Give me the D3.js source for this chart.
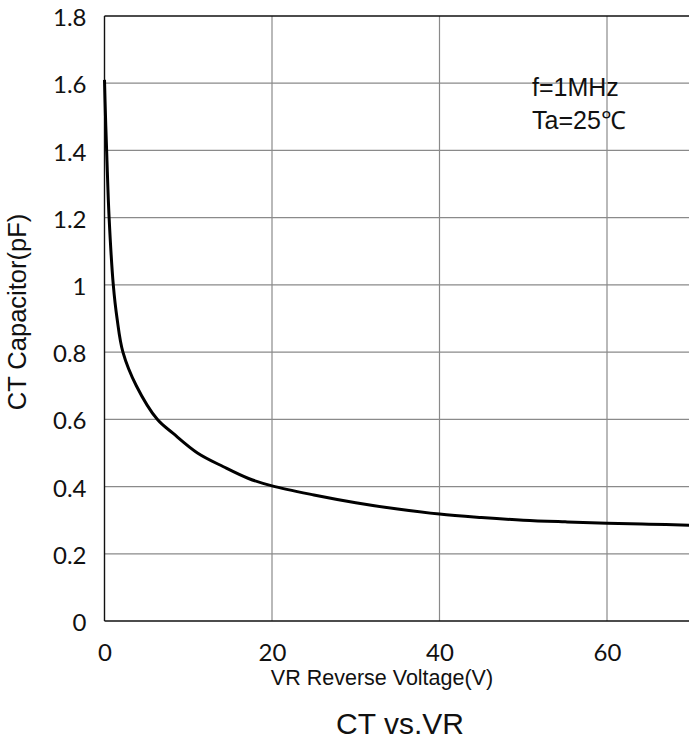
<!DOCTYPE html>
<html>
<head>
<meta charset="utf-8">
<script src="https://cdn.jsdelivr.net/npm/d3@7"></script>
<style>
  body { margin: 0; background: #fff; }
  svg { display: block; }
</style>
</head>
<body>
<div id="chart"></div>
<script>
// CT vs VR readings
const voltage = [0, 0.12, 0.28, 0.55, 1.05, 1.5, 2.2, 3.8, 6.3, 8.2, 11.1, 14.2, 17.2, 20, 25, 30, 35, 40, 45, 50, 55, 60, 65, 70];
const capacitance = [1.61, 1.5, 1.38, 1.2, 1.0, 0.9, 0.8, 0.7, 0.6, 0.558, 0.5, 0.459, 0.424, 0.402, 0.375, 0.352, 0.333, 0.318, 0.308, 0.300, 0.295, 0.291, 0.288, 0.285];
const xTicks = [0, 20, 40, 60];
const yTicks = [0, 0.2, 0.4, 0.6, 0.8, 1, 1.2, 1.4, 1.6, 1.8];
const notes = ["f=1MHz", "Ta=25\u2103"];

const W = 689, H = 742;
const padd = {left: 104.5, top: 16, right: 0, bottom: 121};

const svg = d3.select("#chart").append("svg")
  .attr("width", W)
  .attr("height", H);

const xScale = d3.scaleLinear().domain([0, 70]).range([padd.left, padd.left + 70 * 8.375]);
const yScale = d3.scaleLinear().domain([0, 1.8]).range([H - padd.bottom, padd.top]);

//grid
svg.append("g")
  .selectAll("line.h")
  .data(yTicks.filter(d => d > 0 && d < 1.8))
  .enter().append("line")
  .attr("x1", xScale(0)).attr("x2", W)
  .attr("y1", d => yScale(d)).attr("y2", d => yScale(d))
  .attr("stroke", "#8a8a8a").attr("stroke-width", 1.2);

svg.append("g")
  .selectAll("line.v")
  .data(xTicks.filter(d => d > 0))
  .enter().append("line")
  .attr("x1", d => xScale(d)).attr("x2", d => xScale(d))
  .attr("y1", yScale(1.8)).attr("y2", yScale(0))
  .attr("stroke", "#8a8a8a").attr("stroke-width", 1.2);

//frame lines
const frame = svg.append("g").attr("stroke", "#111").attr("stroke-width", 1.4);
frame.append("line").attr("x1", xScale(0)).attr("x2", W).attr("y1", yScale(1.8)).attr("y2", yScale(1.8));
frame.append("line").attr("x1", xScale(0)).attr("x2", W).attr("y1", yScale(0)).attr("y2", yScale(0));
frame.append("line").attr("x1", xScale(0)).attr("x2", xScale(0)).attr("y1", yScale(1.8)).attr("y2", yScale(0));

//Y axis labels
const yAxis = d3.axisLeft(yScale).tickValues(yTicks).tickSize(0).tickPadding(18).tickFormat(d3.format("~g"));
svg.append("g")
  .attr("transform", `translate(${xScale(0)},0)`)
  .call(yAxis)
  .call(g => g.select(".domain").remove())
  .selectAll("text")
  .attr("font-family", "Lato, 'Open Sans', sans-serif")
  .attr("font-size", 24)
  .attr("fill", "#111")
  .attr("dy", "0.4em");

//X axis labels
const xAxis = d3.axisBottom(xScale).tickValues(xTicks).tickSize(0).tickPadding(23);
svg.append("g")
  .attr("transform", `translate(0,${yScale(0)})`)
  .call(xAxis)
  .call(g => g.select(".domain").remove())
  .selectAll("text")
  .attr("font-family", "Lato, 'Open Sans', sans-serif")
  .attr("font-size", 24)
  .attr("fill", "#111");

//curve
const line = d3.line()
  .x((d, i) => xScale(voltage[i]))
  .y(d => yScale(d))
  .curve(d3.curveCatmullRom.alpha(0.5));

svg.append("path")
  .datum(capacitance)
  .attr("d", line)
  .attr("fill", "none")
  .attr("stroke", "#000")
  .attr("stroke-width", 3);

//notes
svg.append("g")
  .selectAll("text")
  .data(notes)
  .enter().append("text")
  .attr("x", 532)
  .attr("y", (d, i) => 96 + i * 33)
  .attr("font-family", "'Liberation Sans', Arial, sans-serif")
  .attr("font-size", 25)
  .attr("fill", "#111")
  .text(d => d);

//axis titles
svg.append("text")
  .attr("x", 382).attr("y", 685)
  .attr("text-anchor", "middle")
  .attr("font-family", "'Liberation Sans', Arial, sans-serif")
  .attr("font-size", 21.5)
  .attr("fill", "#111")
  .text("VR Reverse Voltage(V)");

svg.append("text")
  .attr("transform", "translate(26,312) rotate(-90)")
  .attr("text-anchor", "middle")
  .attr("font-family", "'Liberation Sans', Arial, sans-serif")
  .attr("font-size", 25.5)
  .attr("fill", "#111")
  .text("CT Capacitor(pF)");

svg.append("text")
  .attr("x", 400).attr("y", 734)
  .attr("text-anchor", "middle")
  .attr("font-family", "'Liberation Sans', Arial, sans-serif")
  .attr("font-size", 30)
  .attr("fill", "#111")
  .text("CT vs.VR");
</script>
</body>
</html>
